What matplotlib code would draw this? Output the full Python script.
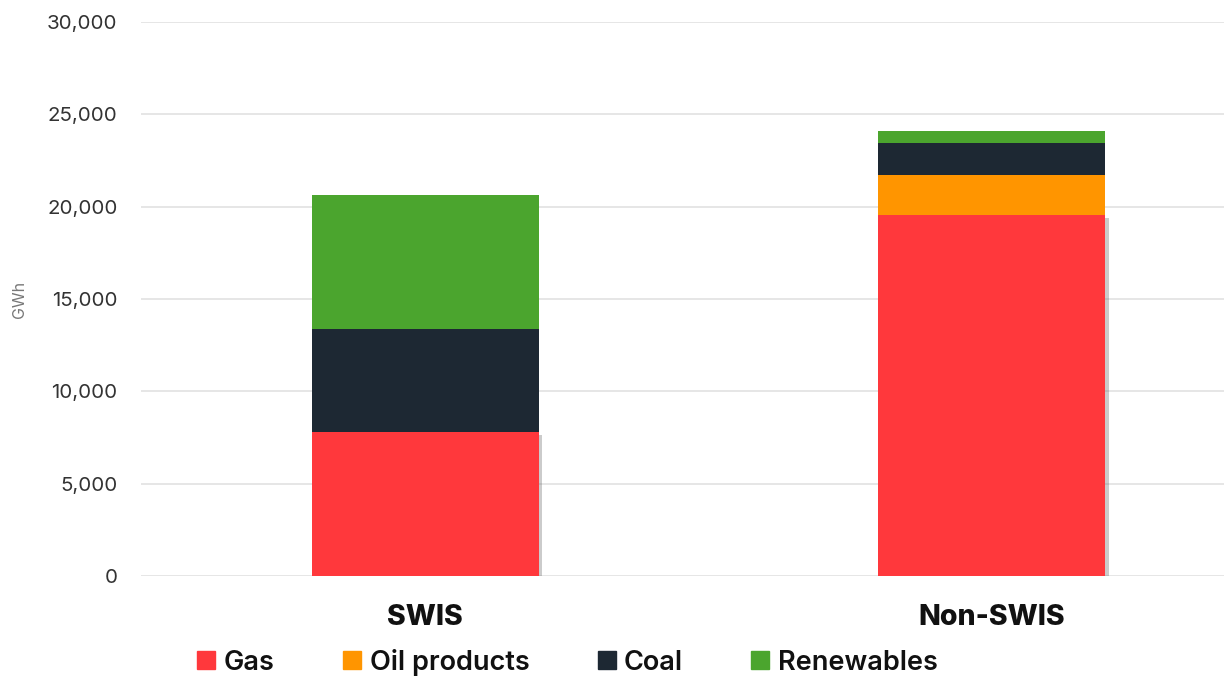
import matplotlib.pyplot as plt
import matplotlib.patheffects as pe
from matplotlib.lines import Line2D
from matplotlib.ticker import FuncFormatter
import numpy as np

regions = ["SWIS", "Non-SWIS"]
fuels = ["Gas", "Oil products", "Coal", "Renewables"]
gas = [7800, 19550]
oil = [0, 2150]
coal = [5580, 1740]
renewables = [7270, 650]
colors = ["#ff383c", "#ff9500", "#1d2833", "#4ba52e"]

plt.rcParams["font.family"] = ["Inter", "DejaVu Sans"]

fig = plt.figure(figsize=(12.24, 6.76), dpi=100)
ax = fig.add_axes([141 / 1224, 1 - 576 / 676, (1224 - 141) / 1224, (576 - 22) / 676])

x = np.arange(len(regions))
bottom = np.zeros(len(regions))
for vals, name, c in zip([gas, oil, coal, renewables], fuels, colors):
    bars = ax.bar(x, vals, width=0.4, bottom=bottom, color=c, label=name, zorder=3)
    if name == "Gas":
        for b in bars:
            b.set_path_effects([pe.SimplePatchShadow(offset=(2.5, -2.5), shadow_rgbFace="#555555", alpha=0.3),
                                pe.Normal()])
    bottom += np.array(vals)

ax.set_xlim(-0.502, 1.41)
ax.set_ylim(0, 30000)
ax.set_yticks(np.arange(0, 30001, 5000))
ax.yaxis.set_major_formatter(FuncFormatter(lambda v, p: f"{int(v):,}"))
ax.grid(axis="y", color="#e4e4e4", linewidth=1.3, zorder=0)
for s in ax.spines.values():
    s.set_visible(False)
ax.tick_params(axis="y", length=0, pad=17, labelsize=14.8, labelcolor="#333333")
ax.tick_params(axis="x", length=0, pad=20)
ax.set_xticks(x)
ax.set_xticklabels(regions, fontsize=20.5, fontweight="heavy", color="#111111")
ax.set_ylabel("GWh", fontsize=11.5, color="#777777")
ax.yaxis.set_label_coords(-0.105, 0.5)

handles = [Line2D([], [], marker="s", linestyle="none", markersize=13, color=c) for c in colors]
fig.legend(handles, fuels, loc="center", bbox_to_anchor=(566 / 1224, 1 - 662 / 676), ncol=4,
           frameon=False, prop={"size": 19.5, "weight": "semibold"}, handletextpad=0.2,
           columnspacing=2.4, handlelength=0.9, labelcolor="#111111")

fig.savefig("out.png", dpi=100)
